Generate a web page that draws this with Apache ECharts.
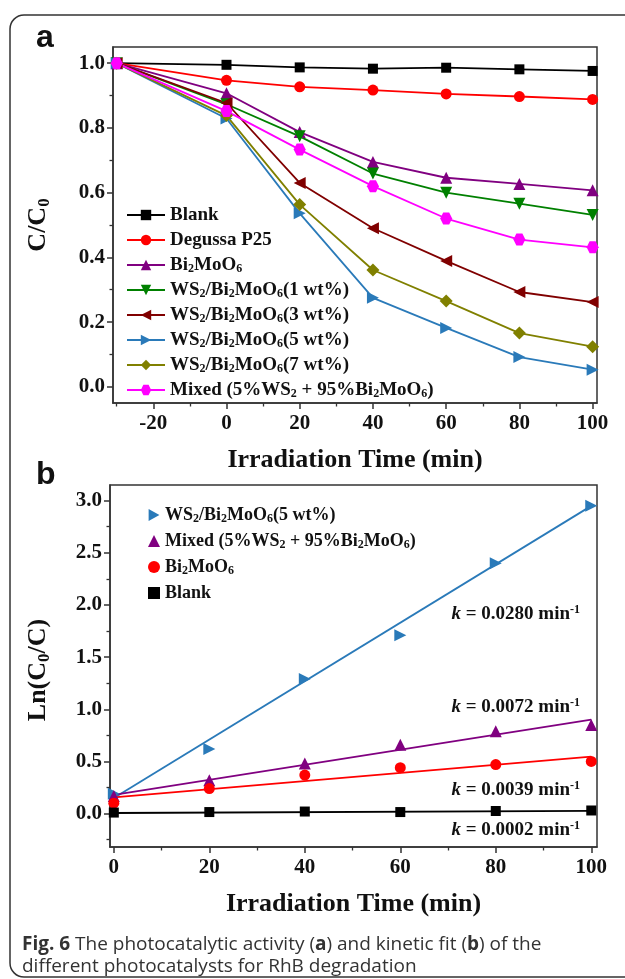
<!DOCTYPE html>
<html>
<head>
<meta charset="utf-8">
<script src="https://cdn.jsdelivr.net/npm/echarts@6/dist/echarts.min.js"></script>
<style>
  html, body { margin: 0; padding: 0; background: #fff; }
  #chart { width: 625px; height: 979px; }
</style>
</head>
<body>
<div id="chart"></div>
<script>
// ---- (a) photocatalytic activity, C/C0 vs irradiation time ----
const timeA = [-30, 0, 20, 40, 60, 80, 100];
const blankA = [1.0, 0.995, 0.987, 0.983, 0.986, 0.981, 0.976];
const p25A = [1.0, 0.947, 0.927, 0.917, 0.905, 0.897, 0.888];
const bmoA = [1.0, 0.907, 0.787, 0.695, 0.646, 0.627, 0.607];
const ws1A = [1.0, 0.873, 0.774, 0.659, 0.600, 0.566, 0.531];
const ws3A = [1.0, 0.877, 0.630, 0.490, 0.389, 0.293, 0.262];
const ws5A = [1.0, 0.829, 0.536, 0.275, 0.182, 0.092, 0.053];
const ws7A = [1.0, 0.838, 0.563, 0.361, 0.265, 0.166, 0.124];
const mixA = [1.0, 0.852, 0.733, 0.620, 0.520, 0.455, 0.431];
const xTicksA = [-20, 0, 20, 40, 60, 80, 100];
const xMinorA = [-30, -10, 10, 30, 50, 70, 90];
const yTicksA = [0.0, 0.2, 0.4, 0.6, 0.8, 1.0];
const yMinorA = [0.1, 0.3, 0.5, 0.7, 0.9];

// ---- (b) kinetic fit, Ln(C0/C) vs irradiation time ----
const timeB = [0, 20, 40, 60, 80, 100];
const ws5B = [0.19, 0.62, 1.29, 1.71, 2.40, 2.95];
const mixB = [0.17, 0.32, 0.48, 0.66, 0.79, 0.85];
const bmoB = [0.10, 0.24, 0.37, 0.44, 0.47, 0.50];
const blankB = [0.01, 0.015, 0.02, 0.015, 0.025, 0.03];
const rateK = [0.0280, 0.0072, 0.0039, 0.0002];
const fitIntercept = [0.15, 0.18, 0.156, 0.006];
const fitRange = [0, 100];
const xTicksB = [0, 20, 40, 60, 80, 100];
const xMinorB = [10, 30, 50, 70, 90];
const yTicksB = [0.0, 0.5, 1.0, 1.5, 2.0, 2.5, 3.0];
const yMinorB = [-0.25, 0.25, 0.75, 1.25, 1.75, 2.25, 2.75];

const SERIF = "'Liberation Serif', 'Times New Roman', serif";
const AXIS_COLOR = '#333';

const C = {
  black: '#000000', red: '#ff0000', purple: '#800080', green: '#008000',
  wine: '#800000', blue: '#2a7ab9', olive: '#808000', magenta: '#ff00ff'
};

// symbols
const SYM = {
  down: 'path://M0,0 L10,0 L5,9 Z',
  left: 'path://M0,5 L9,0 L9,10 Z',
  right: 'path://M0,0 L9,5 L0,10 Z',
  hex: 'path://M2.5,0 L7.5,0 L10,4.33 L7.5,8.66 L2.5,8.66 L0,4.33 Z'
};

const subRich = {
  s: { fontFamily: SERIF, fontWeight: 'bold', fontSize: 12, verticalAlign: 'bottom', lineHeight: 20 }
};

const seriesA = [
  { key: 'Blank', data: blankA, color: C.black, symbol: 'rect', size: 10, label: 'Blank' },
  { key: 'Degussa P25', data: p25A, color: C.red, symbol: 'circle', size: 11, label: 'Degussa P25' },
  { key: 'Bi2MoO6', data: bmoA, color: C.purple, symbol: 'triangle', size: 12, label: 'Bi{s|2}MoO{s|6}' },
  { key: 'WS2/Bi2MoO6(1 wt%)', data: ws1A, color: C.green, symbol: SYM.down, size: 12, label: 'WS{s|2}/Bi{s|2}MoO{s|6}(1 wt%)' },
  { key: 'WS2/Bi2MoO6(3 wt%)', data: ws3A, color: C.wine, symbol: SYM.left, size: 12, label: 'WS{s|2}/Bi{s|2}MoO{s|6}(3 wt%)' },
  { key: 'WS2/Bi2MoO6(5 wt%)', data: ws5A, color: C.blue, symbol: SYM.right, size: 12, label: 'WS{s|2}/Bi{s|2}MoO{s|6}(5 wt%)' },
  { key: 'WS2/Bi2MoO6(7 wt%)', data: ws7A, color: C.olive, symbol: 'diamond', size: 13, label: 'WS{s|2}/Bi{s|2}MoO{s|6}(7 wt%)' },
  { key: 'Mixed (5%WS2 + 95%Bi2MoO6)', data: mixA, color: C.magenta, symbol: SYM.hex, size: 12, label: 'Mixed (5%WS{s|2} + 95%Bi{s|2}MoO{s|6})' }
];

const seriesB = [
  { key: 'b: WS2/Bi2MoO6(5 wt%)', data: ws5B, color: C.blue, symbol: SYM.right, size: 12, label: 'WS{s|2}/Bi{s|2}MoO{s|6}(5 wt%)', fit: 0 },
  { key: 'b: Mixed', data: mixB, color: C.purple, symbol: 'triangle', size: 12, label: 'Mixed (5%WS{s|2} + 95%Bi{s|2}MoO{s|6})', fit: 1 },
  { key: 'b: Bi2MoO6', data: bmoB, color: C.red, symbol: 'circle', size: 11, label: 'Bi{s|2}MoO{s|6}', fit: 2 },
  { key: 'b: Blank', data: blankB, color: C.black, symbol: 'rect', size: 10, label: 'Blank', fit: 3 }
];

const labelMap = {};
seriesA.forEach(s => { labelMap[s.key] = s.label; });
seriesB.forEach(s => { labelMap[s.key] = s.label; });

const zip = (xs, ys) => xs.map((x, i) => [x, ys[i]]);

const series = [];
seriesA.forEach(s => {
  series.push({
    name: s.key, type: 'line', xAxisIndex: 0, yAxisIndex: 0,
    data: zip(timeA, s.data), symbol: s.symbol, symbolSize: s.size,
    color: s.color, lineStyle: { width: 1.8, color: s.color },
    itemStyle: { color: s.color, opacity: 1 }, emphasis: { disabled: true }, z: 3
  });
});
seriesB.forEach(s => {
  const k = rateK[s.fit], b0 = fitIntercept[s.fit];
  series.push({
    name: s.key + ' fit', type: 'line', xAxisIndex: 2, yAxisIndex: 2,
    data: fitRange.map(x => [x, b0 + k * x]), symbol: 'none',
    lineStyle: { width: 1.8, color: s.color }, color: s.color,
    emphasis: { disabled: true }, z: 2
  });
  series.push({
    name: s.key, type: 'scatter', xAxisIndex: 2, yAxisIndex: 2,
    data: zip(timeB, s.data), symbol: s.symbol, symbolSize: s.size,
    itemStyle: { color: s.color, opacity: 1 }, color: s.color,
    emphasis: { disabled: true }, z: 3
  });
});

const tickLabel = { fontFamily: SERIF, fontWeight: 'bold', fontSize: 21, color: '#111' };
const axisNameStyle = { fontFamily: SERIF, fontWeight: 'bold', fontSize: 26, color: '#111' };

function majorX(grid, min, max, ticks, withName) {
  return {
    type: 'value', gridIndex: grid, min: min, max: max, position: 'bottom',
    axisLine: { show: true, onZero: false, lineStyle: { color: AXIS_COLOR, width: 1.5 } },
    axisTick: { show: true, inside: false, length: 6, customValues: ticks, lineStyle: { color: AXIS_COLOR, width: 1.5 } },
    axisLabel: { show: true, customValues: ticks, margin: 10, ...tickLabel },
    splitLine: { show: false },
    name: withName ? 'Irradiation Time (min)' : '', nameLocation: 'middle', nameGap: 44,
    nameTextStyle: axisNameStyle
  };
}
function minorX(grid, min, max, ticks) {
  return {
    type: 'value', gridIndex: grid, min: min, max: max, position: 'bottom',
    axisLine: { show: false, onZero: false },
    axisTick: { show: true, inside: false, length: 3.5, customValues: ticks, lineStyle: { color: AXIS_COLOR, width: 1.3 } },
    axisLabel: { show: false }, splitLine: { show: false }
  };
}
function majorY(grid, min, max, ticks, fmt, name, nameGap, namePad) {
  return {
    type: 'value', gridIndex: grid, min: min, max: max, position: 'left',
    axisLine: { show: true, onZero: false, lineStyle: { color: AXIS_COLOR, width: 1.5 } },
    axisTick: { show: true, inside: false, length: 6, customValues: ticks, lineStyle: { color: AXIS_COLOR, width: 1.5 } },
    axisLabel: { show: true, customValues: ticks, margin: 8, formatter: v => v.toFixed(fmt), ...tickLabel },
    splitLine: { show: false },
    name: name, nameLocation: 'middle', nameGap: nameGap, nameRotate: 90,
    nameTextStyle: {
      ...axisNameStyle, padding: namePad,
      rich: { sub: { fontFamily: SERIF, fontWeight: 'bold', fontSize: 17, verticalAlign: 'bottom', lineHeight: 30, color: '#111' } }
    }
  };
}
function minorY(grid, min, max, ticks) {
  return {
    type: 'value', gridIndex: grid, min: min, max: max, position: 'left',
    axisLine: { show: false, onZero: false },
    axisTick: { show: true, inside: false, length: 3.5, customValues: ticks, lineStyle: { color: AXIS_COLOR, width: 1.3 } },
    axisLabel: { show: false }, splitLine: { show: false }
  };
}

const annotStyle = {
  fontFamily: SERIF, fontWeight: 'bold', fontSize: 19, fill: '#111',
  rich: {
    k: { fontFamily: SERIF, fontWeight: 'bold', fontStyle: 'italic', fontSize: 19 },
    sup: { fontFamily: SERIF, fontWeight: 'bold', fontSize: 12, verticalAlign: 'top', lineHeight: 20 }
  }
};
const annotTexts = [
  { y: 604, k: rateK[0] },
  { y: 697, k: rateK[1] },
  { y: 780, k: rateK[2] },
  { y: 820, k: rateK[3] }
];

const chart = echarts.init(document.getElementById('chart'), null, { renderer: 'canvas' });
chart.setOption({
  backgroundColor: '#fff',
  animation: false,
  grid: [
    { left: 113, right: 28, top: 47, height: 356, show: true, borderColor: AXIS_COLOR, borderWidth: 1.5, containLabel: false },
    { left: 110, right: 28, top: 485, height: 362, show: true, borderColor: AXIS_COLOR, borderWidth: 1.5, containLabel: false }
  ],
  xAxis: [
    majorX(0, -31, 101.2, xTicksA, true),
    minorX(0, -31, 101.2, xMinorA),
    majorX(1, -0.8, 101.2, xTicksB, true),
    minorX(1, -0.8, 101.2, xMinorB)
  ],
  yAxis: [
    majorY(0, -0.05, 1.05, yTicksA, 1, 'C/C{sub|0}', 60, [0, 0, 0, 0]),
    minorY(0, -0.05, 1.05, yMinorA),
    majorY(1, -0.32, 3.15, yTicksB, 1, 'Ln(C{sub|0}/C)', 57, [0, 8, 0, 0]),
    minorY(1, -0.32, 3.15, yMinorB)
  ],
  legend: [
    {
      data: seriesA.map(s => s.key), orient: 'vertical', left: 121, top: 200,
      itemWidth: 38, itemHeight: 13, itemGap: 5, selectedMode: false,
      formatter: n => labelMap[n],
      textStyle: { fontFamily: SERIF, fontWeight: 'bold', fontSize: 19, color: '#111', lineHeight: 20, rich: subRich }
    },
    {
      data: seriesB.map(s => s.key), orient: 'vertical', left: 143, top: 500,
      itemWidth: 12, itemHeight: 12, itemGap: 6, selectedMode: false,
      formatter: n => labelMap[n],
      textStyle: { fontFamily: SERIF, fontWeight: 'bold', fontSize: 18, color: '#111', lineHeight: 20, rich: subRich }
    }
  ],
  series: series,
  graphic: [
    {
      type: 'rect', shape: { x: 10, y: 15, width: 640, height: 962, r: 14 },
      style: { fill: 'none', stroke: '#333', lineWidth: 1.5 }, silent: true, z: -1
    },
    { type: 'text', left: 36, top: 22, style: { text: 'a', fontFamily: "'Liberation Sans', Arial, sans-serif", fontWeight: 'bold', fontSize: 32, fill: '#111' } },
    { type: 'text', left: 36, top: 459, style: { text: 'b', fontFamily: "'Liberation Sans', Arial, sans-serif", fontWeight: 'bold', fontSize: 32, fill: '#111' } },
    ...annotTexts.map(a => ({
      type: 'text', right: 45, top: a.y,
      style: { ...annotStyle, text: '{k|k} = ' + a.k.toFixed(4) + ' min{sup|-1}' }
    })),
    {
      type: 'text', left: 22, top: 935,
      style: {
        text: '{b|Fig. 6} The photocatalytic activity ({b|a}) and kinetic fit ({b|b}) of the',
        fontFamily: "'Open Sans', sans-serif", fontSize: 19, fill: '#333',
        rich: { b: { fontFamily: "'Open Sans', sans-serif", fontSize: 19, fontWeight: 'bold', fill: '#333' } }
      }
    },
    {
      type: 'text', left: 22, top: 957,
      style: { text: 'different photocatalysts for RhB degradation', fontFamily: "'Open Sans', sans-serif", fontSize: 19, fill: '#333' }
    }
  ]
});
</script>
</body>
</html>
